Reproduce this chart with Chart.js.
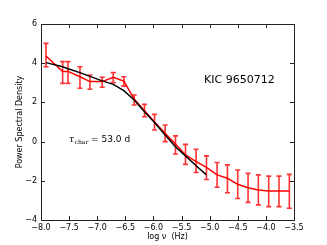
<!DOCTYPE html>
<html>
<head>
<meta charset="utf-8">
<script src="https://cdn.jsdelivr.net/npm/chart.js@4"></script>
<style>
  html, body { margin: 0; padding: 0; background: #fff; }
  #wrap { width: 327px; height: 245px; }
</style>
</head>
<body>
<div id="wrap"><canvas id="psd"></canvas></div>
<script>
// ---- Data ----
const logFreq = [-7.911, -7.615, -7.520, -7.307, -7.130, -6.911, -6.715, -6.526, -6.342, -6.159,
                 -5.981, -5.792, -5.608, -5.430, -5.241, -5.057, -4.868, -4.684, -4.501, -4.317,
                 -4.134, -3.950, -3.767, -3.583];
const psd     = [4.37, 3.58, 3.58, 3.31, 3.06, 3.06, 3.28, 3.09, 2.17, 1.58,
                 1.00, 0.42, -0.12, -0.68, -1.02, -1.31, -1.70, -1.87, -2.18, -2.35,
                 -2.47, -2.52, -2.52, -2.52];
const errHigh = [5.01, 4.08, 4.08, 3.82, 3.40, 3.28, 3.52, 3.31, 2.38, 1.90,
                 1.39, 0.85, 0.29, -0.14, -0.39, -0.73, -1.07, -1.19, -1.45, -1.62,
                 -1.70, -1.76, -1.76, -1.67];
const errLow  = [3.82, 2.97, 2.97, 2.72, 2.67, 2.77, 3.01, 2.83, 1.87, 1.27,
                 0.59, 0.00, -0.63, -1.16, -1.58, -1.93, -2.33, -2.61, -2.90, -3.10,
                 -3.23, -3.32, -3.32, -3.40];
// model fit (black line)
const modelFreq = [-7.911, -7.615, -7.520, -7.307, -7.130, -6.911, -6.715, -6.526, -6.342, -6.159,
                   -5.981, -5.792, -5.608, -5.430, -5.241, -5.057];
const modelPsd  = [4.03, 3.82, 3.72, 3.52, 3.33, 3.10, 2.92, 2.60, 2.12, 1.52,
                   0.97, 0.34, -0.26, -0.73, -1.23, -1.70];

const xTicks = [-8.0, -7.5, -7.0, -6.5, -6.0, -5.5, -5.0, -4.5, -4.0, -3.5];
const yTicks = [-4, -2, 0, 2, 4, 6];

const minus = s => String(s).replace('-', '\u2212');

// ---- Error bars, frame with inward ticks, annotations ----
const errorBars = {
  id: 'errorBars',
  beforeDatasetsDraw(chart) {
    const { ctx, scales: { x, y } } = chart;
    ctx.save();
    ctx.strokeStyle = 'rgba(255,0,0,0.8)';
    ctx.lineWidth = 1.6;
    logFreq.forEach((f, i) => {
      const px = x.getPixelForValue(f);
      const top = y.getPixelForValue(errHigh[i]);
      const bot = y.getPixelForValue(errLow[i]);
      ctx.beginPath();
      ctx.moveTo(px, top); ctx.lineTo(px, bot);
      ctx.moveTo(px - 2.5, top); ctx.lineTo(px + 2.5, top);
      ctx.moveTo(px - 2.5, bot); ctx.lineTo(px + 2.5, bot);
      ctx.stroke();
    });
    ctx.restore();
  }
};

const frame = {
  id: 'frame',
  afterDraw(chart) {
    const { ctx, chartArea: a, scales: { x, y } } = chart;
    ctx.save();
    ctx.strokeStyle = '#222';
    ctx.lineWidth = 1;
    ctx.strokeRect(Math.round(a.left) + 0.5, Math.round(a.top) + 0.5,
                   Math.round(a.right - a.left), Math.round(a.bottom - a.top));
    ctx.beginPath();
    xTicks.forEach(t => {
      const px = Math.round(x.getPixelForValue(t)) + 0.5;
      ctx.moveTo(px, a.bottom); ctx.lineTo(px, a.bottom - 4);
      ctx.moveTo(px, a.top); ctx.lineTo(px, a.top + 4);
    });
    yTicks.forEach(t => {
      const py = Math.round(y.getPixelForValue(t)) + 0.5;
      ctx.moveTo(a.left, py); ctx.lineTo(a.left + 4, py);
      ctx.moveTo(a.right, py); ctx.lineTo(a.right - 4, py);
    });
    ctx.stroke();

    // annotations
    ctx.fillStyle = '#000';
    ctx.textBaseline = 'alphabetic';
    ctx.textAlign = 'left';
    ctx.font = '11px "DejaVu Sans"';
    ctx.fillText('KIC 9650712', x.getPixelForValue(-5.1), y.getPixelForValue(3.0));

    let tx = x.getPixelForValue(-7.5);
    const ty = y.getPixelForValue(0);
    ctx.font = 'italic 9px "DejaVu Serif"';
    ctx.fillText('\u03C4', tx, ty);
    tx += ctx.measureText('\u03C4').width + 0.5;
    ctx.font = '6px "DejaVu Serif"';
    ctx.fillText('char', tx, ty + 2);
    tx += ctx.measureText('char').width;
    ctx.font = '9px "DejaVu Sans"';
    ctx.fillText(' = 53.0 d', tx, ty);
    ctx.restore();
  }
};

new Chart(document.getElementById('psd'), {
  type: 'line',
  data: {
    datasets: [
      {
        label: 'model',
        data: modelFreq.map((f, i) => ({ x: f, y: modelPsd[i] })),
        borderColor: '#000',
        borderWidth: 1.5,
        pointRadius: 0,
        tension: 0,
        order: 0
      },
      {
        label: 'PSD',
        data: logFreq.map((f, i) => ({ x: f, y: psd[i] })),
        borderColor: '#ff0000',
        borderWidth: 1.5,
        pointRadius: 0,
        tension: 0,
        order: 1
      }
    ]
  },
  options: {
    responsive: true,
    maintainAspectRatio: false,
    animation: false,
    events: [],
    layout: { padding: { left: 15, top: 24, right: 33, bottom: 3 } },
    plugins: { legend: { display: false }, tooltip: { enabled: false } },
    scales: {
      x: {
        type: 'linear',
        min: -8, max: -3.5,
        afterFit: s => { s.height = 22; },
        afterBuildTicks: s => { s.ticks = xTicks.map(v => ({ value: v })); },
        grid: { display: false, drawTicks: false },
        border: { display: false },
        ticks: {
          color: '#000', padding: 3, maxRotation: 0, autoSkip: false,
          font: { family: 'DejaVu Sans', size: 8 },
          callback: v => minus(v.toFixed(1))
        },
        title: { display: true, text: 'log \u03BD  (Hz)', color: '#000',
                 font: { family: 'DejaVu Sans', size: 8 }, padding: 0 }
      },
      y: {
        type: 'linear',
        min: -4, max: 6,
        afterFit: s => { s.width = 26; },
        afterBuildTicks: s => { s.ticks = yTicks.map(v => ({ value: v })); },
        grid: { display: false, drawTicks: false },
        border: { display: false },
        ticks: {
          color: '#000', padding: 4,
          font: { family: 'DejaVu Sans', size: 8 },
          callback: v => minus(v)
        },
        title: { display: true, text: 'Power Spectral Density', color: '#000',
                 font: { family: 'DejaVu Sans', size: 8 }, padding: 0 }
      }
    }
  },
  plugins: [errorBars, frame]
});
</script>
</body>
</html>
